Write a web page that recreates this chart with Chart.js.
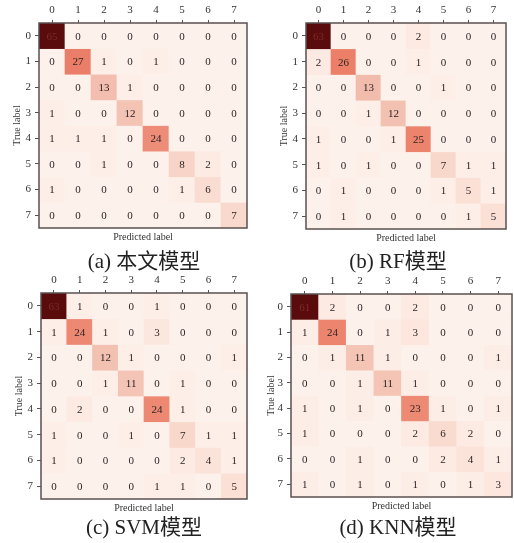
<!DOCTYPE html>
<html lang="zh">
<head>
  <meta charset="UTF-8">
  <title>混淆矩阵</title>
  <script src="https://cdn.jsdelivr.net/npm/chart.js@4"></script>
  <style>
    body {
      margin: 0;
      background: #fff;
      width: 514px;
      height: 543px;
      position: relative;
      overflow: hidden;
    }
    .panel {
      position: absolute;
    }
    .caption {
      position: absolute;
      width: 200px;
      margin-left: -100px;
      text-align: center;
      font-family: "Liberation Serif", "Noto Sans CJK SC", serif;
      font-size: 21px;
      line-height: 24px;
      color: #222;
    }
  </style>
</head>
<body>
  <div class="panel" style="left:0;top:0;width:257px;height:248px"><canvas id="ca"></canvas></div>
  <div class="panel" style="left:257px;top:0;width:257px;height:248px"><canvas id="cb"></canvas></div>
  <div class="panel" style="left:0;top:270px;width:257px;height:248px"><canvas id="cc"></canvas></div>
  <div class="panel" style="left:257px;top:270px;width:257px;height:248px"><canvas id="cd"></canvas></div>
  <div class="caption" id="capA" style="left:144px;top:249px"></div>
  <div class="caption" id="capB" style="left:398px;top:249px"></div>
  <div class="caption" id="capC" style="left:144px;top:515px"></div>
  <div class="caption" id="capD" style="left:398px;top:515px"></div>

  <script>
    // 类别 (预测 / 真实)
    const classLabels = ['0', '1', '2', '3', '4', '5', '6', '7'];

    // 混淆矩阵：行 = 真实类别，列 = 预测类别
    const cmOurs = [
      [65, 0, 0, 0, 0, 0, 0, 0],
      [0, 27, 1, 0, 1, 0, 0, 0],
      [0, 0, 13, 1, 0, 0, 0, 0],
      [1, 0, 0, 12, 0, 0, 0, 0],
      [1, 1, 1, 0, 24, 0, 0, 0],
      [0, 0, 1, 0, 0, 8, 2, 0],
      [1, 0, 0, 0, 0, 1, 6, 0],
      [0, 0, 0, 0, 0, 0, 0, 7]
    ];
    const cmRF = [
      [63, 0, 0, 0, 2, 0, 0, 0],
      [2, 26, 0, 0, 1, 0, 0, 0],
      [0, 0, 13, 0, 0, 1, 0, 0],
      [0, 0, 1, 12, 0, 0, 0, 0],
      [1, 0, 0, 1, 25, 0, 0, 0],
      [1, 0, 1, 0, 0, 7, 1, 1],
      [0, 1, 0, 0, 0, 1, 5, 1],
      [0, 1, 0, 0, 0, 0, 1, 5]
    ];
    const cmSVM = [
      [63, 1, 0, 0, 1, 0, 0, 0],
      [1, 24, 1, 0, 3, 0, 0, 0],
      [0, 0, 12, 1, 0, 0, 0, 1],
      [0, 0, 1, 11, 0, 1, 0, 0],
      [0, 2, 0, 0, 24, 1, 0, 0],
      [1, 0, 0, 1, 0, 7, 1, 1],
      [1, 0, 0, 0, 0, 2, 4, 1],
      [0, 0, 0, 0, 1, 1, 0, 5]
    ];
    const cmKNN = [
      [61, 2, 0, 0, 2, 0, 0, 0],
      [1, 24, 0, 1, 3, 0, 0, 0],
      [0, 1, 11, 1, 0, 0, 0, 1],
      [0, 0, 1, 11, 1, 0, 0, 0],
      [1, 0, 1, 0, 23, 1, 0, 1],
      [1, 0, 0, 0, 2, 6, 2, 0],
      [0, 0, 1, 0, 0, 2, 4, 1],
      [1, 0, 1, 0, 1, 0, 1, 3]
    ];

    const captions = ['(a) 本文模型', '(b) RF模型', '(c) SVM模型', '(d) KNN模型'];
    const xTitle = 'Predicted label';
    const yTitle = 'True label';

    ['capA', 'capB', 'capC', 'capD'].forEach((id, i) => {
      document.getElementById(id).textContent = captions[i];
    });

    // 颜色表 (类似 Reds, 偏灰一点)
    const cmapStops = [
      [0, '#fdf1ec'],
      [0.1, '#fadbd0'],
      [0.19, '#f3c1b2'],
      [0.41, '#ec8069'],
      [0.6, '#cf4a38'],
      [0.8, '#981f19'],
      [1, '#5a0c0c']
    ];
    function hex2rgb(h) {
      return [1, 3, 5].map(i => parseInt(h.substr(i, 2), 16));
    }
    function cellColor(t) {
      t = Math.max(0, Math.min(1, t));
      let i = 0;
      while (i < cmapStops.length - 2 && t > cmapStops[i + 1][0]) i++;
      const [t0, c0] = cmapStops[i];
      const [t1, c1] = cmapStops[i + 1];
      const f = (t - t0) / (t1 - t0);
      const a = hex2rgb(c0), b = hex2rgb(c1);
      const c = a.map((v, k) => Math.round(v + (b[k] - v) * f));
      return `rgb(${c[0]},${c[1]},${c[2]})`;
    }

    const serif = '"Liberation Serif", "DejaVu Serif", serif';

    // 数字 + 外框
    const cellText = {
      id: 'cellText',
      afterDatasetsDraw(chart) {
        const ctx = chart.ctx;
        ctx.save();
        ctx.font = `11px ${serif}`;
        ctx.textAlign = 'center';
        ctx.textBaseline = 'middle';
        chart.data.datasets.forEach((ds, di) => {
          const meta = chart.getDatasetMeta(di);
          meta.data.forEach((el, j) => {
            ctx.fillStyle = ds.counts[j] > 50 ? '#7a2a28' : '#2e2424';
            ctx.fillText(String(ds.counts[j]), el.x, (el.y + el.base) / 2 + 1);
          });
        });
        const a = chart.chartArea;
        ctx.strokeStyle = '#5a5050';
        ctx.lineWidth = 1.5;
        ctx.strokeRect(a.left, a.top, a.right - a.left, a.bottom - a.top);
        ctx.restore();
      }
    };

    function makeChart(id, cm, opt) {
      const max = Math.max(...cm.flat());
      const datasets = cm.map((row, r) => ({
        label: yTitle + ' ' + r,
        data: classLabels.map(() => [r, r + 1]),
        counts: row,
        backgroundColor: row.map(v => cellColor(v / max)),
        borderWidth: 0,
        grouped: false,
        barPercentage: 1,
        categoryPercentage: 1
      }));

      new Chart(document.getElementById(id), {
        type: 'bar',
        data: { labels: classLabels, datasets: datasets },
        plugins: [cellText],
        options: {
          responsive: true,
          maintainAspectRatio: false,
          animation: false,
          layout: { padding: { left: opt.padL, right: opt.padR, top: 0, bottom: opt.padB } },
          plugins: {
            legend: { display: false },
            tooltip: { enabled: false }
          },
          scales: {
            x: {
              type: 'category',
              position: 'top',
              offset: true,
              grid: { offset: false, drawOnChartArea: false, tickLength: 3, color: '#555' },
              border: { display: false },
              ticks: { font: { family: serif, size: 11 }, color: '#333', padding: 3 },
              afterFit: s => { s.height = opt.xH; }
            },
            x2: {
              type: 'category',
              position: 'bottom',
              labels: classLabels,
              offset: true,
              grid: { offset: false, drawOnChartArea: false, drawTicks: false },
              border: { display: false },
              ticks: { display: false },
              title: { display: true, text: xTitle, font: { family: serif, size: 10 }, color: '#333', padding: { top: 0, bottom: 2 } },
              afterFit: s => { s.height = 17; }
            },
            y: {
              type: 'linear',
              min: 0,
              max: 8,
              reverse: true,
              grid: { drawOnChartArea: false, tickLength: 4, color: '#555' },
              border: { display: false },
              afterBuildTicks: s => { s.ticks = classLabels.map((l, i) => ({ value: i + 0.5 })); },
              ticks: {
                font: { family: serif, size: 11 },
                color: '#333',
                padding: 4,
                callback: v => classLabels[Math.round(v - 0.5)]
              },
              title: { display: true, text: yTitle, font: { family: serif, size: 10 }, color: '#333', padding: { top: opt.yTitlePad, bottom: 0 } },
              afterFit: s => { s.width = opt.yW; }
            }
          }
        }
      });
    }

    makeChart('ca', cmOurs, { padL: 0, padR: 10, padB: 3, xH: 23, yW: 39, yTitlePad: 11 });
    makeChart('cb', cmRF, { padL: 10, padR: 8, padB: 2, xH: 23, yW: 39, yTitlePad: 11 });
    makeChart('cc', cmSVM, { padL: 2, padR: 10, padB: 2, xH: 23, yW: 39, yTitlePad: 11 });
    makeChart('cd', cmKNN, { padL: 0, padR: 2, padB: 4, xH: 24, yW: 34, yTitlePad: 8 });
  </script>
</body>
</html>
